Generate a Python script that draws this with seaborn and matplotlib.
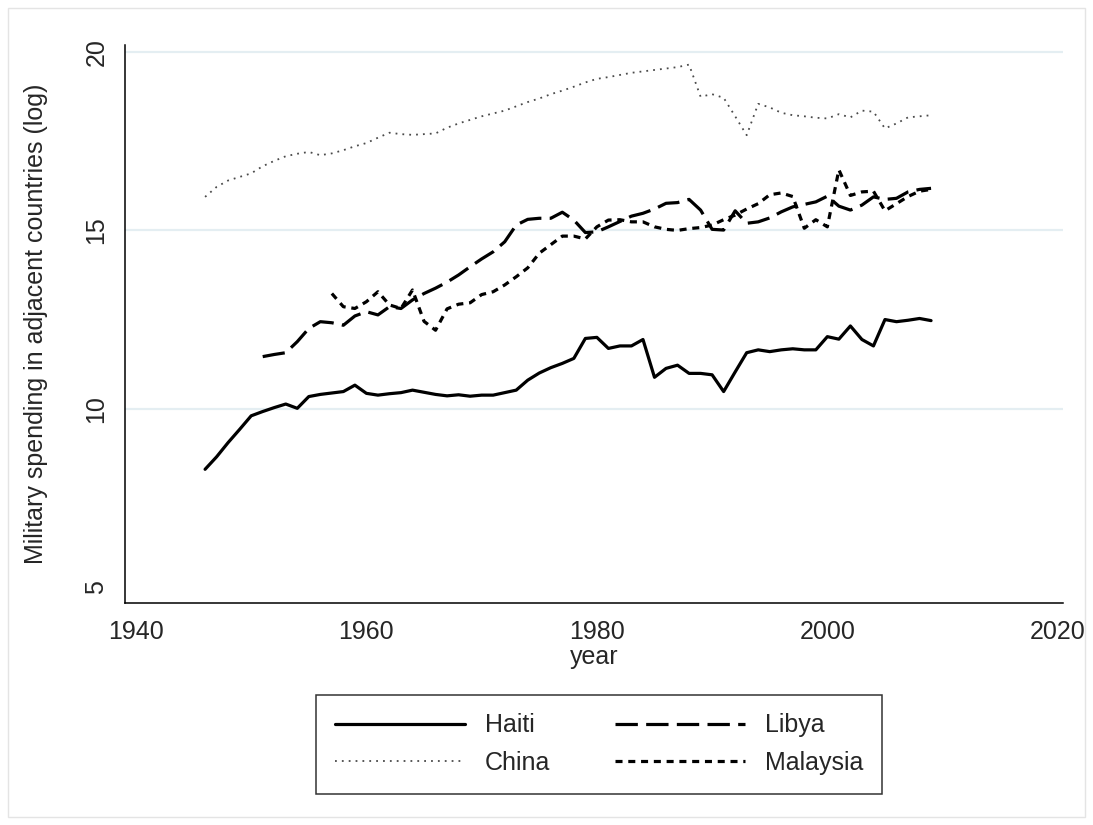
import numpy as np
import pandas as pd
import matplotlib
matplotlib.use('Agg')
import matplotlib.pyplot as plt
import matplotlib.patches as mpatches
import seaborn as sns

# ── data ────────────────────────────────────────────────────
haiti_years = list(range(1946, 2010))
haiti = [8.30, 8.65, 9.05, 9.42, 9.80, 9.92, 10.03, 10.13, 10.01, 10.34,
         10.40, 10.44, 10.48, 10.66, 10.43, 10.38, 10.42, 10.45, 10.52, 10.46,
         10.40, 10.36, 10.39, 10.35, 10.38, 10.38, 10.45, 10.52, 10.80, 11.00,
         11.15, 11.27, 11.41, 11.97, 12.00, 11.69, 11.76, 11.76, 11.94, 10.88,
         11.13, 11.22, 10.99, 10.99, 10.95, 10.48, 11.03, 11.57, 11.65, 11.60,
         11.65, 11.68, 11.65, 11.65, 12.02, 11.95, 12.32, 11.94, 11.76, 12.50,
         12.44, 12.48, 12.53, 12.47]

china_years = list(range(1946, 2010))
china = [15.94, 16.22, 16.40, 16.50, 16.60, 16.80, 16.95, 17.08, 17.15, 17.20,
         17.11, 17.16, 17.25, 17.36, 17.45, 17.60, 17.74, 17.70, 17.68, 17.70,
         17.72, 17.88, 18.00, 18.10, 18.20, 18.28, 18.36, 18.48, 18.60, 18.70,
         18.82, 18.92, 19.03, 19.15, 19.25, 19.30, 19.36, 19.42, 19.46, 19.50,
         19.54, 19.58, 19.65, 18.75, 18.82, 18.72, 18.20, 17.67, 18.55, 18.45,
         18.30, 18.23, 18.20, 18.16, 18.14, 18.26, 18.17, 18.36, 18.33, 17.86,
         18.00, 18.17, 18.20, 18.23]

libya_years = list(range(1951, 2010))
libya = [11.46, 11.52, 11.57, 11.88, 12.25, 12.44, 12.41, 12.34, 12.60, 12.72,
         12.63, 12.86, 12.81, 13.05, 13.23, 13.38, 13.55, 13.75, 13.98, 14.20,
         14.40, 14.68, 15.15, 15.31, 15.34, 15.34, 15.51, 15.29, 14.94, 14.96,
         15.10, 15.25, 15.40, 15.48, 15.60, 15.76, 15.78, 15.87, 15.57, 15.03,
         15.01, 15.55, 15.20, 15.24, 15.35, 15.52, 15.66, 15.73, 15.80, 15.96,
         15.68, 15.57, 15.71, 15.94, 15.87, 15.90, 16.08, 16.15, 16.18]

malaysia_years = list(range(1957, 2010))
malaysia = [13.23, 12.86, 12.81, 13.00, 13.28, 12.91, 12.81, 13.33, 12.45, 12.20,
            12.80, 12.93, 12.97, 13.20, 13.28, 13.47, 13.70, 13.95, 14.36, 14.60,
            14.84, 14.84, 14.76, 15.10, 15.29, 15.30, 15.24, 15.24, 15.10, 15.03,
            15.00, 15.05, 15.08, 15.15, 15.30, 15.43, 15.60, 15.75, 16.00, 16.05,
            15.95, 15.06, 15.30, 15.10, 16.70, 15.98, 16.08, 16.10, 15.55, 15.75,
            15.95, 16.10, 16.15]

x_ticks = [1940, 1960, 1980, 2000, 2020]
y_ticks = [5, 10, 15, 20]

series = {
    'Haiti': (haiti_years, haiti),
    'Libya': (libya_years, libya),
    'China': (china_years, china),
    'Malaysia': (malaysia_years, malaysia),
}
frames = [pd.DataFrame({'year': yrs, 'value': vals, 'country': name})
          for name, (yrs, vals) in series.items()]
df = pd.concat(frames, ignore_index=True)

# ── styling ─────────────────────────────────────────────────
sns.set_style('white')
plt.rcParams['font.family'] = ['Liberation Sans', 'DejaVu Sans']
FS = 18

styles = {
    'Haiti':    dict(color='black', lw=2.3, dashes=None),
    'Libya':    dict(color='black', lw=2.3, dashes=(7, 2.6)),
    'China':    dict(color='#4a4a4a', lw=1.3, dashes=(1.0, 2.8)),
    'Malaysia': dict(color='black', lw=2.3, dashes=(2.2, 1.8)),
}

fig = plt.figure(figsize=(10.93, 8.25), dpi=100)
fig.patch.set_facecolor('white')
fig.patches.append(mpatches.Rectangle((8 / 1093, 8 / 825), 1 - 16 / 1093, 1 - 16 / 825,
                                      transform=fig.transFigure, fill=False,
                                      edgecolor='#e4e4e4', lw=1.0))
ax = fig.add_axes([125 / 1093, 222 / 825, (1063 - 125) / 1093, (603 - 45) / 825])

# grid lines (Stata style, not at the axis minimum)
for yv in y_ticks[1:]:
    ax.axhline(yv, color='#e4eef2', lw=1.6, zorder=0)

handles = {}
for name in ['Haiti', 'Libya', 'China', 'Malaysia']:
    st = styles[name]
    sub = df[df['country'] == name]
    sns.lineplot(data=sub, x='year', y='value', ax=ax, color=st['color'],
                 linewidth=st['lw'], label=name, legend=False)
    line = ax.lines[-1]
    if st['dashes'] is not None:
        line.set_dashes(st['dashes'])
    line.set_solid_joinstyle('round')
    line.set_dash_joinstyle('round')
    handles[name] = line

ax.set_xlim(1939.05, 2020.45)
ax.set_ylim(4.55, 20.2)
ax.set_xticks(x_ticks)
ax.set_yticks(y_ticks)
ax.tick_params(axis='both', direction='out', length=8, width=1.1, color='black',
               labelsize=FS, pad=4)
ax.set_yticklabels([str(v) for v in y_ticks], rotation=90, va='center')
for side in ['top', 'right']:
    ax.spines[side].set_visible(False)
for side in ['left', 'bottom']:
    ax.spines[side].set_color('black')
    ax.spines[side].set_linewidth(1.1)

ax.set_xlabel('year', fontsize=FS, labelpad=1)
ax.set_ylabel('Military spending in adjacent countries (log)', fontsize=FS, labelpad=26)

order = ['Haiti', 'China', 'Libya', 'Malaysia']
leg = fig.legend([handles[n] for n in order], order, loc='upper center',
                 bbox_to_anchor=(599 / 1093, 1 - 682 / 825), ncol=2,
                 fontsize=FS, frameon=True, fancybox=False, handlelength=5.2,
                 columnspacing=2.6, handletextpad=0.8, borderpad=0.75,
                 labelspacing=0.55)
leg.get_frame().set_edgecolor('black')
leg.get_frame().set_linewidth(1.1)

fig.savefig('out.png', dpi=100, facecolor='white')
